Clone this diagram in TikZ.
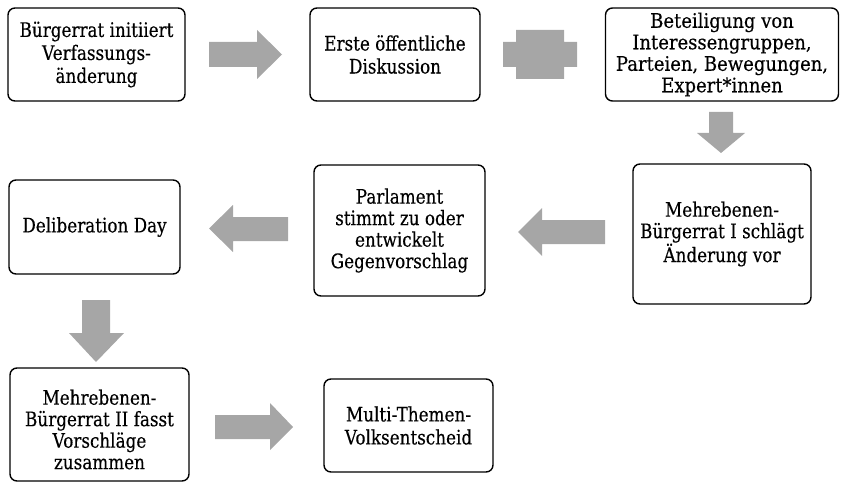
\documentclass[tikz,border=0pt]{standalone}
\usepackage{fontspec}
\newfontfamily\boxserif[FakeStretch=0.84,FakeBold=0.3]{DejaVu Serif}
\newfontfamily\wideboxserif[FakeStretch=0.9,FakeBold=0.3]{DejaVu Serif}
\definecolor{arrowgray}{HTML}{A6A6A6}
\begin{document}
\begin{tikzpicture}[x=1pt,y=-1pt,
  stepbox/.style={draw=black, line width=1.4pt, rounded corners=7pt,
    align=center, inner sep=0pt, font=\boxserif\fontsize{20}{23}\selectfont},
  tightbox/.style={stepbox, font=\boxserif\fontsize{20}{21.5}\selectfont},
  steptext/.style={align=center, inner sep=0pt, font=\boxserif\fontsize{20}{21.5}\selectfont},
  blockarrow/.style={fill=arrowgray}]
\useasboundingbox (0,0) rectangle (841,484);

% process steps
\node[stepbox, minimum width=177pt, minimum height=93pt] (b1) at (96.5,54.5)
  {Bürgerrat initiiert\\Verfassungs-\\änderung};
\node[stepbox, minimum width=170pt, minimum height=93pt] (b2) at (395,54.5)
  {Erste öffentliche\\Diskussion};
\node[tightbox, font=\wideboxserif\fontsize{20}{21.5}\selectfont,
  minimum width=233pt, minimum height=93pt] (b3) at (722,54.5)
  {Beteiligung von\\Interessengruppen,\\Parteien, Bewegungen,\\Expert*innen};
\node[tightbox, minimum width=178pt, minimum height=140pt] (b4) at (722,234)
  {Mehrebenen-\\Bürgerrat I schlägt\\Änderung vor};
\node[tightbox, minimum width=171pt, minimum height=131pt] (b5) at (399.5,230.5)
  {Parlament\\stimmt zu oder\\entwickelt\\Gegenvorschlag};
\node[tightbox, minimum width=171pt, minimum height=94pt] (b6) at (94.5,227)
  {Deliberation Day};
% the text of this step sits a little below the middle of its frame
\node[stepbox, minimum width=179pt, minimum height=113pt] (b7) at (99.5,424.5) {};
\node[steptext] (b7text) at ([yshift=-5pt]b7.center)
  {Mehrebenen-\\Bürgerrat II fasst\\Vorschläge\\zusammen};
\node[stepbox, minimum width=169pt, minimum height=93pt] (b8) at (408.5,425.5)
  {Multi-Themen-\\Volksentscheid};

% block arrows between the steps
\fill[blockarrow] (209,42) -- (257,42) -- (257,30) -- (282,54.5)
  -- (257,79) -- (257,67) -- (209,67) -- cycle;
\fill[blockarrow] (516,30) -- (564,30) -- (564,42) -- (577,42) -- (577,67)
  -- (564,67) -- (564,79) -- (516,79) -- (516,67) -- (503,67) -- (503,42)
  -- (516,42) -- cycle;
\fill[blockarrow] (709,112) -- (733,112) -- (733,133) -- (745,133)
  -- (721,153) -- (697,133) -- (709,133) -- cycle;
\fill[blockarrow] (605,220) -- (542,220) -- (542,208) -- (518,232)
  -- (542,256) -- (542,244) -- (605,244) -- cycle;
\fill[blockarrow] (288,217) -- (233,217) -- (233,205) -- (209,228.5)
  -- (233,252) -- (233,241) -- (288,241) -- cycle;
\fill[blockarrow] (82,300) -- (110,300) -- (110,333) -- (124,333)
  -- (96,362) -- (69,333) -- (82,333) -- cycle;
\fill[blockarrow] (215,415) -- (270,415) -- (270,403) -- (293,427)
  -- (270,450) -- (270,439) -- (215,439) -- cycle;
\end{tikzpicture}
\end{document}
